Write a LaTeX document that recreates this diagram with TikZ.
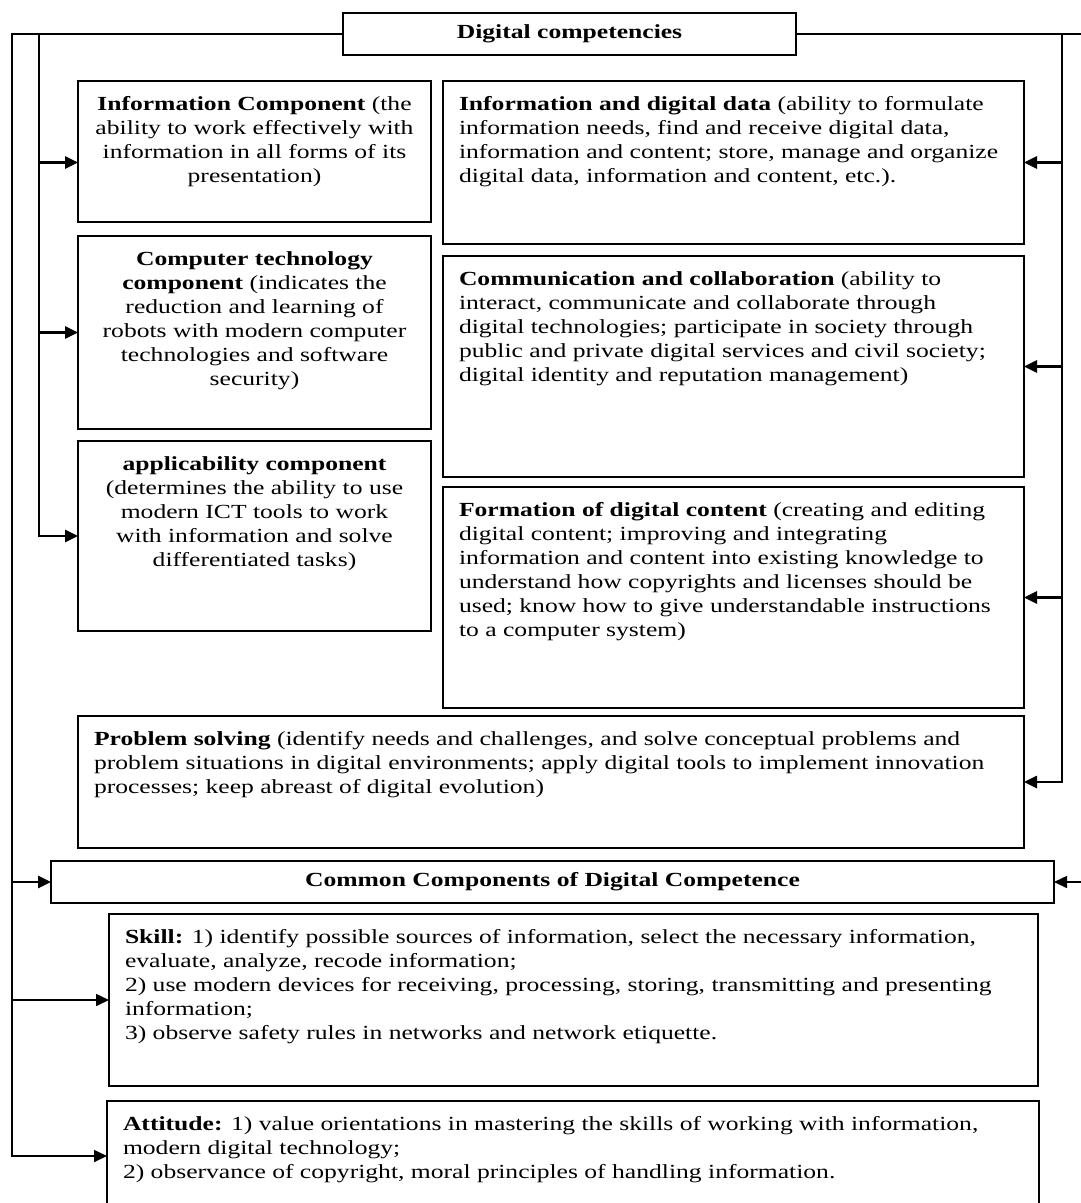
\documentclass[tikz,border=0pt]{standalone}
\usepackage{fontspec}
\setmainfont{Liberation Serif}[FakeStretch=1.28]
\usetikzlibrary{arrows.meta}

% one line of a panel: left-aligned or centred, never broken
\newcommand\Ll[1]{\hbox to \linewidth{\strut#1\hss}}
\newcommand\Cl[1]{\hbox to \linewidth{\hss\strut#1\hss}}
% \panel{name}{x}{y}{width}{height}{lines}
\newcommand\panel[6]{%
  \node[cbox, minimum width=#4pt, minimum height=#5pt] (#1) at (#2,#3)
    {\parbox[c][\dimexpr #5pt-26pt\relax][t]{\dimexpr #4pt-32pt\relax}{#6}};}

\tikzset{
  cbox/.style={draw, line width=1.3pt, inner sep=0pt, outer sep=0pt, anchor=north west},
  titlebox/.style={cbox, font=\fontsize{20}{24}\selectfont\bfseries},
  trunk/.style={line width=2.6pt},
  branch/.style={line width=1.6pt},
  tip/.style={-{Triangle[length=13pt,width=12pt]}}
}

\begin{document}
\begin{tikzpicture}[x=1pt, y=-1pt, font=\fontsize{20}{24}\selectfont]
\useasboundingbox (0,0) rectangle (1080,1203);

% headline
\node[titlebox, minimum width=453pt, minimum height=42pt] (top) at (343,13) {Digital competencies};

% left column
\panel{icomp}{78}{81}{353}{141}{%
  \Cl{\textbf{Information Component} (the}
  \Cl{ability to work effectively with}
  \Cl{information in all forms of its}
  \Cl{presentation)}}
\panel{ctech}{78}{236}{353}{193}{%
  \Cl{\textbf{Computer technology}}
  \Cl{\textbf{component} (indicates the}
  \Cl{reduction and learning of}
  \Cl{robots with modern computer}
  \Cl{technologies and software}
  \Cl{security)}}
\panel{appl}{78}{441}{353}{190}{%
  \Cl{\textbf{applicability component}}
  \Cl{(determines the ability to use}
  \Cl{modern ICT tools to work}
  \Cl{with information and solve}
  \Cl{differentiated tasks)}}

% right column
\panel{idata}{443}{81}{581}{163}{%
  \Ll{\textbf{Information and digital data} (ability to formulate}
  \Ll{information needs, find and receive digital data,}
  \Ll{information and content; store, manage and organize}
  \Ll{digital data, information and content, etc.).}}
\panel{comm}{443}{256}{581}{221}{%
  \Ll{\textbf{Communication and collaboration} (ability to}
  \Ll{interact, communicate and collaborate through}
  \Ll{digital technologies; participate in society through}
  \Ll{public and private digital services and civil society;}
  \Ll{digital identity and reputation management)}}
\panel{form}{443}{487}{581}{221}{%
  \Ll{\textbf{Formation of digital content} (creating and editing}
  \Ll{digital content; improving and integrating}
  \Ll{information and content into existing knowledge to}
  \Ll{understand how copyrights and licenses should be}
  \Ll{used; know how to give understandable instructions}
  \Ll{to a computer system)}}

% full-width panels
\panel{prob}{78}{716}{946}{132}{%
  \Ll{\textbf{Problem solving} (identify needs and challenges, and solve conceptual problems and}
  \Ll{problem situations in digital environments; apply digital tools to implement innovation}
  \Ll{processes; keep abreast of digital evolution)}}

\node[titlebox, minimum width=1003pt, minimum height=42pt] (common) at (51,861) {Common Components of Digital Competence};

\panel{skill}{109}{914}{929}{172}{%
  \Ll{\textbf{Skill:} 1) identify possible sources of information, select the necessary information,}
  \Ll{evaluate, analyze, recode information;}
  \Ll{2) use modern devices for receiving, processing, storing, transmitting and presenting}
  \Ll{information;}
  \Ll{3) observe safety rules in networks and network etiquette.}}
\panel{att}{107}{1101}{932}{110}{%
  \Ll{\textbf{Attitude:} 1) value orientations in mastering the skills of working with information,}
  \Ll{modern digital technology;}
  \Ll{2) observance of copyright, moral principles of handling information.}}

% connector corners
\coordinate (lt) at (39,34);
\coordinate (lo) at (12,34);
\coordinate (rt) at (1062,34);
\coordinate (ro) at (1090,34);

% inner left trunk
\draw[trunk, tip] (top.west) -- (lt) |- (appl.west);
\draw[trunk, tip] (lt |- idata.west) -- (icomp.west |- idata.west);
\draw[trunk, tip] (lt |- ctech.west) -- (ctech.west);

% inner right trunk
\draw[trunk, tip] (top.east) -- (rt) |- (prob.east);
\draw[trunk, tip] (rt |- idata.east) -- (idata.east);
\draw[trunk, tip] (rt |- comm.east) -- (comm.east);
\draw[trunk, tip] (rt |- form.east) -- (form.east);

% outer left line
\draw[branch, tip] (lt) -- (lo) |- (att.west);
\draw[trunk, tip] (lo |- common.west) -- (common.west);
\draw[branch, tip] (lo |- skill.west) -- (skill.west);

% outer right line
\draw[branch, tip] (rt) -- (ro) |- (common.east);
\end{tikzpicture}
\end{document}
